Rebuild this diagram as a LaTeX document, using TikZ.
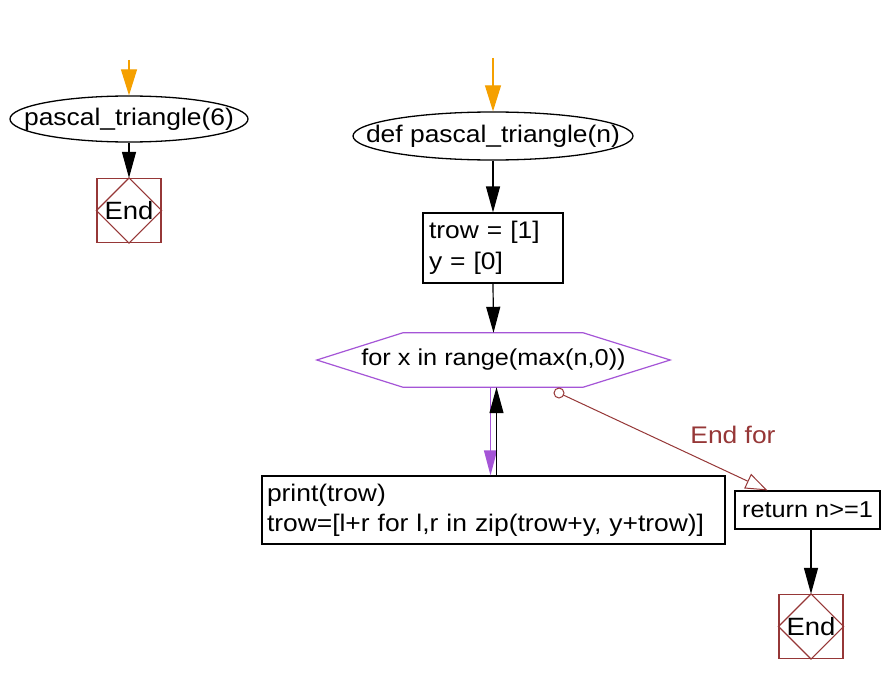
\documentclass[tikz,border=0pt]{standalone}
\usepackage{fontspec}
\setmainfont[FakeStretch=1.1]{Liberation Sans}
\usetikzlibrary{arrows.meta,calc,shapes.geometric}
\definecolor{brn}{RGB}{150,55,55}
\definecolor{prp}{RGB}{165,85,215}
\definecolor{org}{RGB}{245,160,0}
\tikzset{
  every node/.style={font=\fontsize{24}{28}\selectfont, inner sep=0pt},
  termell/.style={ellipse, draw=black, line width=1.3pt, fill=white},
  procbox/.style={rectangle, draw=black, line width=1.2pt, align=left, anchor=center},
  endbox/.style={rectangle, draw=brn, line width=1.2pt, minimum width=64pt, minimum height=64pt, font=\fontsize{25}{28}\selectfont},
  blk/.style={draw=black, line width=1.2pt, -{Triangle[length=26pt,width=14pt]}},
  orng/.style={draw=org, line width=1.2pt, -{Triangle[length=26pt,width=16pt]}},
  prpl/.style={draw=prp, line width=1.2pt, -{Triangle[length=25pt,width=13pt]}},
  brnl/.style={draw=brn, line width=1pt, -{Triangle[open,length=22pt,width=16pt,fill=white]}},
}
\begin{document}
\begin{tikzpicture}[x=1pt,y=-1pt]
\useasboundingbox[fill=white] (0,0) rectangle (888,690);

% left program
\node[termell, minimum width=238pt, minimum height=46pt] (call) at (129,119) {\makebox[0pt]{pascal\_triangle(6)}};
\node[endbox] (end1) at (129,210.5) {End};
\draw[brn, line width=1.2pt] (end1.north) -- (end1.east) -- (end1.south) -- (end1.west) -- cycle;
\coordinate (s1) at (129,60);
\draw[orng] (s1) -- (call.north);
\draw[blk] (call.south) -- (end1.north);

% function
\node[termell, minimum width=280pt, minimum height=48pt] (def) at (493,136) {\makebox[0pt]{def pascal\_triangle(n)}};
\coordinate (s2) at (493,58);
\draw[orng] (s2) -- (def.north);

\node[procbox, minimum width=140pt, minimum height=70pt, text width=128pt, font=\fontsize{24}{31}\selectfont] (init) at (493,248) {trow = [1]\\y = [0]};
\draw[blk] (def.south) -- (init.north);

\node[minimum width=353pt, minimum height=54pt] (loop) at (493.5,360) {\phantom{x}};
\draw[prp, line width=1.2pt, fill=white] (loop.west) -- ($(loop.north west)+(86,0)$) -- ($(loop.north east)+(-87,0)$) -- (loop.east) -- ($(loop.south east)+(-87,0)$) -- ($(loop.south west)+(86,0)$) -- cycle;
\node[font=\fontsize{23}{28}\selectfont] (looptext) at (loop.center) {for x in range(max(n,0))};
\draw[blk] (init.south) -- (loop.north);

\node[procbox, minimum width=463pt, minimum height=68pt, text width=453pt, font=\fontsize{24}{30}\selectfont] (body) at (493.5,510) {print(trow)\\trow=[l+r for l,r in zip(trow+y, y+trow)]};
\draw[prpl] ([xshift=-3pt]loop.south) -- ([xshift=-3pt]body.north);
\draw[blk] ([xshift=3pt]body.north) -- ([xshift=3pt]loop.south);

\node[procbox, minimum width=145pt, minimum height=38pt, font=\fontsize{23}{28}\selectfont] (ret) at (807.5,510) {return n>=1};
\coordinate (efs) at (559,393);
\draw[brnl] (efs) -- ([xshift=-40pt]ret.north);
\draw[brn, line width=1pt, fill=white] (efs) circle (5pt);
\node[text=brn] (eflab) at (733,435) {End for};

\node[endbox] (end2) at (811,626.5) {End};
\draw[brn, line width=1.2pt] (end2.north) -- (end2.east) -- (end2.south) -- (end2.west) -- cycle;
\draw[blk] (end2.north |- ret.south) -- (end2.north);
\end{tikzpicture}
\end{document}
